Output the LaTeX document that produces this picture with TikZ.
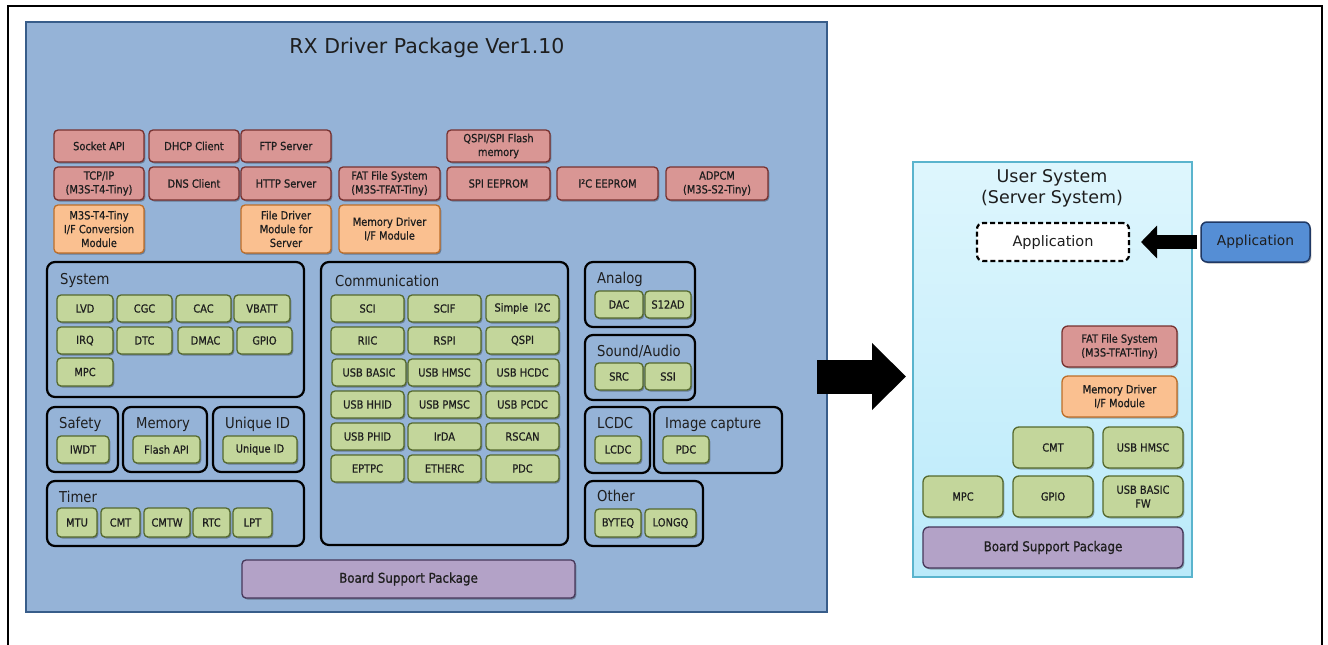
\documentclass[tikz,border=0pt]{standalone}
\usepackage{fontspec}
\setmainfont{DejaVu Sans}[FakeStretch=0.88]
\newfontfamily\widefont{DejaVu Sans}
\newfontfamily\boxfont{DejaVu Sans}[FakeStretch=0.88,FakeBold=0.7]
\usetikzlibrary{arrows.meta,shadows}
\definecolor{panelf}{RGB}{149,179,215}
\definecolor{paneld}{RGB}{56,93,138}
\definecolor{redf}{RGB}{217,150,148}
\definecolor{redd}{RGB}{120,50,48}
\definecolor{orf}{RGB}{250,192,144}
\definecolor{ord}{RGB}{190,110,40}
\definecolor{grf}{RGB}{195,214,155}
\definecolor{grd}{RGB}{85,105,45}
\definecolor{bspf}{RGB}{179,162,199}
\definecolor{bspd}{RGB}{70,55,90}
\definecolor{usrtop}{RGB}{222,246,253}
\definecolor{usrbot}{RGB}{186,234,250}
\definecolor{usrd}{RGB}{90,180,205}
\definecolor{appf}{RGB}{85,142,213}
\definecolor{appd}{RGB}{31,56,100}
\definecolor{txt}{RGB}{30,30,30}
\newcommand\mkbox[7]{%
  \node[#2, minimum width={(#5)-(#3)}, minimum height={(#6)-(#4)}] (#1)
    at ({((#3)+(#5))/2},{((#4)+(#6))/2}) {#7};}
\tikzset{
  box/.style={rounded corners=4pt, line width=1.3pt, inner sep=0pt, outer sep=0pt,
    align=center, text=txt, font=\boxfont\fontsize{11.2}{13.8}\selectfont,
    drop shadow={shadow xshift=1.3pt, shadow yshift=-1.5pt, opacity=0.3, fill=black}},
  redbox/.style={box, fill=redf, draw=redd},
  orbox/.style={box, fill=orf, draw=ord},
  grbox/.style={box, fill=grf, draw=grd},
  bspbox/.style={box, fill=bspf, draw=bspd, font=\boxfont\fontsize{13.5}{16}\selectfont},
  grp/.style={draw=black, line width=2.2pt, rounded corners=8pt, inner sep=0pt, outer sep=0pt},
  grplab/.style={anchor=base west, inner sep=0pt, text=txt, font=\fontsize{15}{17}\selectfont},
}
\begin{document}
\begin{tikzpicture}[x=1pt,y=-1pt]
\useasboundingbox (0,0) rectangle (1328,645);
\fill[white] (0,0) rectangle (1328,645);
\coordinate (f1) at (8,647);
\coordinate (f2) at (8,6);
\coordinate (f3) at (1322,6);
\coordinate (f4) at (1322,647);
\draw[line width=2pt] (f1) -- (f2) -- (f3) -- (f4);

% left panel
\mkbox{drv}{fill=panelf, draw=paneld, line width=1.5pt, inner sep=0pt, outer sep=0pt}{26}{22}{827}{612}{}
\node[font=\widefont\fontsize{20.5}{24}\selectfont, text=txt] (title) at (427,48) {RX Driver Package Ver1.10};

% red boxes
\mkbox{sock}{redbox}{54}{130}{144}{162}{Socket API}
\mkbox{dhcp}{redbox}{149}{130}{239}{162}{DHCP Client}
\mkbox{ftp}{redbox}{241}{130}{331}{162}{FTP Server}
\mkbox{qspif}{redbox}{447}{130}{550}{162}{QSPI/SPI Flash\\memory}
\mkbox{tcp}{redbox}{54}{167}{144}{200}{TCP/IP\\(M3S-T4-Tiny)}
\mkbox{dns}{redbox}{149}{167}{239}{200}{DNS Client}
\mkbox{http}{redbox}{241}{167}{331}{200}{HTTP Server}
\mkbox{fat}{redbox}{339}{167}{440}{200}{FAT File System\\(M3S-TFAT-Tiny)}
\mkbox{spie}{redbox}{447}{167}{550}{200}{SPI EEPROM}
\mkbox{iice}{redbox}{557}{167}{658}{200}{I²C EEPROM}
\mkbox{adpcm}{redbox}{666}{167}{768}{200}{ADPCM\\(M3S-S2-Tiny)}
\mkbox{conv}{orbox}{54}{205}{144}{253}{M3S-T4-Tiny\\I/F Conversion\\Module}
\mkbox{fdm}{orbox}{241}{205}{331}{253}{File Driver\\Module for\\Server}
\mkbox{mdi}{orbox}{339}{205}{440}{253}{Memory Driver\\I/F Module}

% System
\mkbox{gsys}{grp}{47}{262}{304}{397}{}
\node[grplab] (lsys) at (60,284) {System};
\mkbox{lvd}{grbox}{57}{295}{113}{322}{LVD}
\mkbox{cgc}{grbox}{117}{295}{172}{322}{CGC}
\mkbox{cac}{grbox}{176}{295}{231}{322}{CAC}
\mkbox{vbatt}{grbox}{234}{295}{290}{322}{VBATT}
\mkbox{irq}{grbox}{57}{327}{113}{354}{IRQ}
\mkbox{dtc}{grbox}{117}{327}{172}{354}{DTC}
\mkbox{dmac}{grbox}{178}{327}{233}{354}{DMAC}
\mkbox{gpio}{grbox}{237}{327}{292}{354}{GPIO}
\mkbox{mpc}{grbox}{57}{358}{113}{386}{MPC}

% Safety / Memory / Unique ID
\mkbox{gsaf}{grp}{47}{407}{118}{472}{}
\node[grplab] (lsaf) at (59,428) {Safety};
\mkbox{iwdt}{grbox}{57}{436}{109}{463}{IWDT}
\mkbox{gmem}{grp}{123}{407}{207}{472}{}
\node[grplab] (lmem) at (136,428) {Memory};
\mkbox{flash}{grbox}{133}{436}{200}{463}{Flash API}
\mkbox{guid}{grp}{213}{407}{304}{472}{}
\node[grplab] (luid) at (225,428) {Unique ID};
\mkbox{uid}{grbox}{223}{436}{297}{463}{Unique ID}

% Timer
\mkbox{gtim}{grp}{47}{481}{304}{546}{}
\node[grplab] (ltim) at (59,502) {Timer};
\mkbox{mtu}{grbox}{57}{508}{97}{537}{MTU}
\mkbox{cmt}{grbox}{101}{508}{140}{537}{CMT}
\mkbox{cmtw}{grbox}{144}{508}{190}{537}{CMTW}
\mkbox{rtc}{grbox}{193}{508}{230}{537}{RTC}
\mkbox{lpt}{grbox}{233}{508}{272}{537}{LPT}

% Communication
\mkbox{gcom}{grp}{321}{262}{568}{545}{}
\node[grplab] (lcom) at (335,286) {Communication};
\mkbox{sci}{grbox}{331}{295}{404}{322}{SCI}
\mkbox{scif}{grbox}{408}{295}{481}{322}{SCIF}
\mkbox{si2c}{grbox}{486}{295}{559}{322}{Simple\ \ I2C}
\mkbox{riic}{grbox}{331}{327}{404}{354}{RIIC}
\mkbox{rspi}{grbox}{408}{327}{481}{354}{RSPI}
\mkbox{qspi}{grbox}{486}{327}{559}{354}{QSPI}
\mkbox{ubas}{grbox}{332}{359}{406}{386}{USB BASIC}
\mkbox{uhmsc}{grbox}{408}{359}{481}{386}{USB HMSC}
\mkbox{uhcdc}{grbox}{486}{359}{559}{386}{USB HCDC}
\mkbox{uhhid}{grbox}{331}{391}{404}{418}{USB HHID}
\mkbox{upmsc}{grbox}{408}{391}{481}{418}{USB PMSC}
\mkbox{upcdc}{grbox}{486}{391}{559}{418}{USB PCDC}
\mkbox{uphid}{grbox}{331}{423}{404}{450}{USB PHID}
\mkbox{irda}{grbox}{408}{423}{481}{450}{IrDA}
\mkbox{rscan}{grbox}{486}{423}{559}{450}{RSCAN}
\mkbox{eptpc}{grbox}{331}{455}{404}{482}{EPTPC}
\mkbox{etherc}{grbox}{408}{455}{481}{482}{ETHERC}
\mkbox{pdca}{grbox}{486}{455}{559}{482}{PDC}

% Analog, Sound
\mkbox{gana}{grp}{585}{262}{695}{327}{}
\node[grplab] (lana) at (597,283) {Analog};
\mkbox{dac}{grbox}{595}{291}{643}{318}{DAC}
\mkbox{sad}{grbox}{645}{291}{691}{318}{S12AD}
\mkbox{gsnd}{grp}{585}{335}{695}{400}{}
\node[grplab] (lsnd) at (597,356) {Sound/Audio};
\mkbox{src}{grbox}{595}{363}{643}{390}{SRC}
\mkbox{ssi}{grbox}{645}{363}{691}{390}{SSI}

% LCDC, Image capture, Other
\mkbox{glcd}{grp}{585}{407}{650}{473}{}
\node[grplab] (llcd) at (597,428) {LCDC};
\mkbox{lcdc}{grbox}{595}{436}{641}{463}{LCDC}
\mkbox{gimg}{grp}{654}{407}{782}{473}{}
\node[grplab] (limg) at (665,428) {Image capture};
\mkbox{pdcb}{grbox}{663}{436}{709}{463}{PDC}
\mkbox{goth}{grp}{585}{481}{703}{546}{}
\node[grplab] (loth) at (597,501) {Other};
\mkbox{byteq}{grbox}{595}{509}{641}{537}{BYTEQ}
\mkbox{longq}{grbox}{645}{509}{696}{537}{LONGQ}

\mkbox{bspl}{bspbox}{242}{560}{575}{598}{Board Support Package}

% big arrow
\coordinate (ba1) at (817,376.5);
\coordinate (ba2) at (906,376.5);
\draw[line width=34pt, -{Triangle[length=34pt,width=65pt]},
  drop shadow={shadow xshift=1.5pt, shadow yshift=-1.5pt, opacity=0.25}] (ba1) -- (ba2);

% right panel
\mkbox{usr}{top color=usrtop, bottom color=usrbot, draw=usrd, line width=1.2pt, inner sep=0pt, outer sep=0pt}{913}{162}{1192}{577}{}
\node[font=\widefont\fontsize{17.5}{21}\selectfont, align=center, text=txt] (utitle) at (1052,188.5) {User System\\(Server System)};
\mkbox{appd}{fill=white, draw=black, line width=2.2pt, dash pattern=on 5pt off 3pt, rounded corners=6pt, inner sep=0pt, outer sep=0pt, text=txt, font=\widefont\fontsize{14.5}{17}\selectfont}{977}{223}{1129}{261}{Application}
\mkbox{appb}{fill=appf, draw=appd, line width=1.5pt, rounded corners=6pt, inner sep=0pt, outer sep=0pt, text=txt, font=\widefont\fontsize{13.8}{16}\selectfont, drop shadow={shadow xshift=1.3pt, shadow yshift=-1.5pt, opacity=0.3, fill=black}}{1201}{222}{1310}{262}{Application}
\draw[line width=14pt, -{Triangle[length=16pt,width=32pt]}, shorten <=4pt, shorten >=12pt] (appb.west) -- (appd.east);

\mkbox{rfat}{redbox, rounded corners=6pt}{1062}{326}{1177}{367}{FAT File System\\(M3S-TFAT-Tiny)}
\mkbox{rmdi}{orbox, rounded corners=6pt}{1062}{376}{1177}{417}{Memory Driver\\I/F Module}
\mkbox{rcmt}{grbox, rounded corners=6pt}{1013}{427}{1093}{468}{CMT}
\mkbox{rhmsc}{grbox, rounded corners=6pt}{1103}{427}{1183}{468}{USB HMSC}
\mkbox{rmpc}{grbox, rounded corners=6pt}{923}{476}{1003}{517}{MPC}
\mkbox{rgpio}{grbox, rounded corners=6pt}{1013}{476}{1093}{517}{GPIO}
\mkbox{rubas}{grbox, rounded corners=6pt}{1103}{476}{1183}{517}{USB BASIC\\FW}
\mkbox{rbsp}{bspbox, rounded corners=6pt}{923}{527}{1183}{568}{Board Support Package}
\end{tikzpicture}
\end{document}
